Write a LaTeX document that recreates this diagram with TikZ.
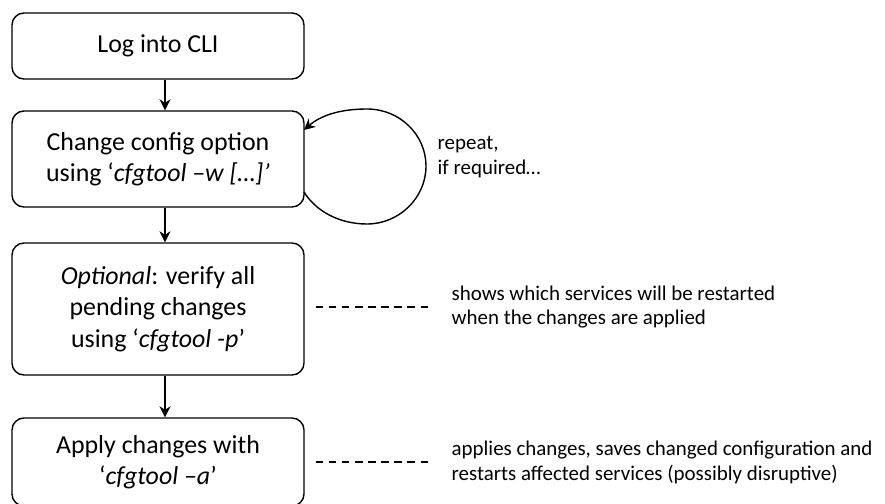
\documentclass[tikz,border=0pt]{standalone}
\usepackage{fontspec}
\setmainfont{Carlito}
\usepackage{tikz}
\usetikzlibrary{arrows.meta}

\tikzset{
	stepbox/.style={draw, line width=1.4bp, rounded corners=12bp, minimum width=292bp,
		align=center, inner sep=0pt, font=\fontsize{26}{31.5}\selectfont},
	note/.style={anchor=west, align=left, inner sep=0pt, font=\fontsize{21}{25}\selectfont},
	hint/.style={line width=1.2bp, dash pattern=on 7.5bp off 5.6bp},
}

\begin{document}
\begin{tikzpicture}[x=1bp,y=-1bp,line width=1.4bp,>={Stealth[length=11bp,width=11bp]}]
	\useasboundingbox (0,0) rectangle (885,504);
	\node[stepbox,minimum height=66bp] (login) at (158,46) {Log into CLI};
	\node[stepbox,minimum height=96bp] (change) at (158,159) {Change config option\\using ‘\textit{cfgtool –w […]’}};
	\node[stepbox,minimum height=132bp] (verify) at (158,309) {\textit{Optional}: verify all\\pending changes\\using ‘\textit{cfgtool -p}’};
	\node[stepbox,minimum height=88bp] (apply) at (158,462) {Apply changes with\\‘\textit{cfgtool –a}’};
	%
	\node[note] (repeat) at (437,157) {repeat,\\if required…};
	\node[note] (shows) at (451,307) {shows which services will be restarted\\when the changes are applied};
	\node[note] (applies) at (451,462) {applies changes, saves changed configuration and\\restarts affected services (possibly disruptive)};
	%
	\coordinate (loopout) at (304,192);
	\coordinate (loopin) at (304,130);
	%
	\draw[->] ([xshift=7bp]login.south) -- ([xshift=7bp]change.north);
	\draw[->] ([xshift=7bp]change.south) -- ([xshift=7bp]verify.north);
	\draw[->] ([xshift=7bp]verify.south) -- ([xshift=7bp]apply.north);
	\draw[->] (loopout) .. controls (315,210) and (338,224) .. (367,224)
		.. controls (399,224) and (426,198) .. (426,166)
		.. controls (426,135) and (400,109) .. (367,109)
		.. controls (339,109) and (320,116) .. (loopin);
	%
	\draw[hint] ([xshift=11bp]verify.east |- shows.west) -- ([xshift=-23bp]shows.west);
	\draw[hint] ([xshift=11bp]apply.east |- applies.west) -- ([xshift=-23bp]applies.west);
\end{tikzpicture}
\end{document}
